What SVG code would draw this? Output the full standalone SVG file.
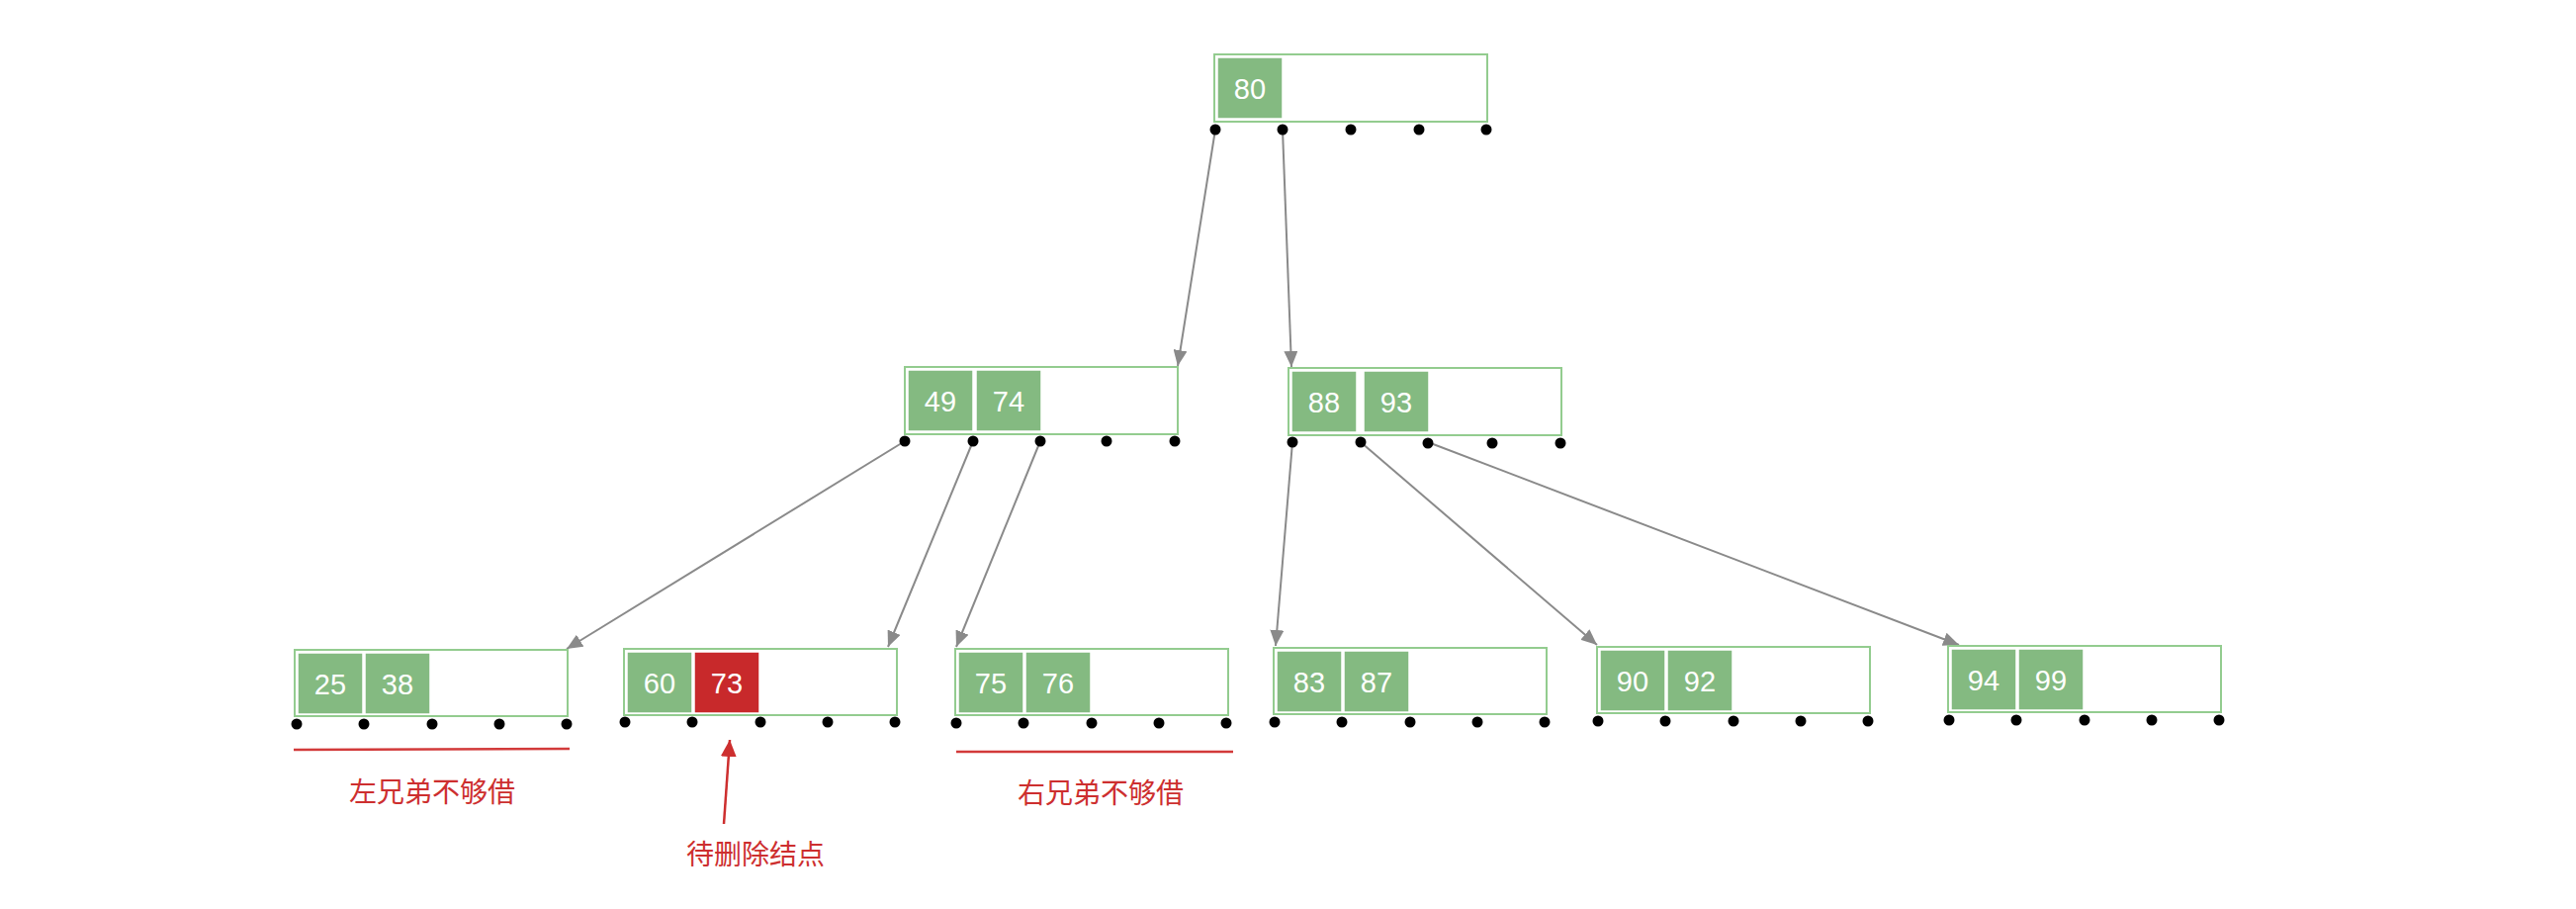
<svg xmlns="http://www.w3.org/2000/svg" width="2605" height="919" viewBox="0 0 2605 919">
<style>
.box{fill:#ffffff;stroke:#93cc8f;stroke-width:2}
.cell{fill:#84ba81;stroke:#ffffff;stroke-width:1.5}
.del{fill:#c8292b;stroke:#ffffff;stroke-width:1.5}
.num{font-family:"Liberation Sans",Arial,sans-serif;font-size:29px;fill:#ffffff;text-anchor:middle}
.dot{fill:#000000}
.edge{stroke:#8a8a8a;stroke-width:2;fill:none}
.note{font-family:"Noto Sans CJK SC","Noto Sans",sans-serif;font-size:28px;fill:#cd2f2f;text-anchor:middle}
.redline{stroke:#d23a3a;stroke-width:2.5;fill:none}
</style>
<defs>
<marker id="arr" markerUnits="userSpaceOnUse" markerWidth="18" markerHeight="14" refX="16" refY="7" orient="auto">
<path d="M0,0 L16,7 L0,14 Z" fill="#8a8a8a"/>
</marker>
<marker id="arrRed" markerUnits="userSpaceOnUse" markerWidth="18" markerHeight="16" refX="17" refY="8" orient="auto">
<path d="M0,0 L17,8 L0,16 Z" fill="#cd2f2f"/>
</marker>
</defs>
<rect width="2605" height="919" fill="#ffffff"/>

<g id="connectors">
<line class="edge" x1="1229" y1="131" x2="1191" y2="370" marker-end="url(#arr)"/>
<line class="edge" x1="1297" y1="131" x2="1306" y2="371" marker-end="url(#arr)"/>
<line class="edge" x1="915" y1="446" x2="573" y2="656" marker-end="url(#arr)"/>
<line class="edge" x1="984" y1="446" x2="898" y2="654" marker-end="url(#arr)"/>
<line class="edge" x1="1052" y1="446" x2="967" y2="654" marker-end="url(#arr)"/>
<line class="edge" x1="1307" y1="447" x2="1290" y2="653" marker-end="url(#arr)"/>
<line class="edge" x1="1376" y1="447" x2="1615" y2="652" marker-end="url(#arr)"/>
<line class="edge" x1="1444" y1="447" x2="1981" y2="652" marker-end="url(#arr)"/>
</g>

<g id="node-root">
<rect class="box" x="1228" y="55" width="276" height="68"/>
<rect class="cell" x="1231" y="58" width="66" height="62"/>
<text class="num" x="1264" y="100">80</text>
<circle class="dot" cx="1229" cy="131" r="5.5"/><circle class="dot" cx="1297" cy="131" r="5.5"/><circle class="dot" cx="1366" cy="131" r="5.5"/><circle class="dot" cx="1435" cy="131" r="5.5"/><circle class="dot" cx="1503" cy="131" r="5.5"/>
</g>

<g id="node-49-74">
<rect class="box" x="915" y="371" width="276" height="68"/>
<rect class="cell" x="918" y="374" width="66" height="62"/>
<rect class="cell" x="987" y="374" width="66" height="62"/>
<text class="num" x="951" y="416">49</text>
<text class="num" x="1020" y="416">74</text>
<circle class="dot" cx="915" cy="446" r="5.5"/><circle class="dot" cx="984" cy="446" r="5.5"/><circle class="dot" cx="1052" cy="446" r="5.5"/><circle class="dot" cx="1119" cy="446" r="5.5"/><circle class="dot" cx="1188" cy="446" r="5.5"/>
</g>

<g id="node-88-93">
<rect class="box" x="1303" y="372" width="276" height="68"/>
<rect class="cell" x="1306" y="375" width="66" height="62"/>
<rect class="cell" x="1379" y="375" width="66" height="62"/>
<text class="num" x="1339" y="417">88</text>
<text class="num" x="1412" y="417">93</text>
<circle class="dot" cx="1307" cy="447" r="5.5"/><circle class="dot" cx="1376" cy="447" r="5.5"/><circle class="dot" cx="1444" cy="448" r="5.5"/><circle class="dot" cx="1509" cy="448" r="5.5"/><circle class="dot" cx="1578" cy="448" r="5.5"/>
</g>

<g id="node-25-38">
<rect class="box" x="298" y="657" width="276" height="67"/>
<rect class="cell" x="301" y="660" width="66" height="62"/>
<rect class="cell" x="369" y="660" width="66" height="62"/>
<text class="num" x="334" y="702">25</text>
<text class="num" x="402" y="702">38</text>
<circle class="dot" cx="300" cy="732" r="5.5"/><circle class="dot" cx="368" cy="732" r="5.5"/><circle class="dot" cx="437" cy="732" r="5.5"/><circle class="dot" cx="505" cy="732" r="5.5"/><circle class="dot" cx="573" cy="732" r="5.5"/>
</g>

<g id="node-60-73">
<rect class="box" x="631" y="656" width="276" height="67"/>
<rect class="cell" x="634" y="659" width="66" height="62"/>
<rect class="del" x="702" y="659" width="66" height="62"/>
<text class="num" x="667" y="701">60</text>
<text class="num" x="735" y="701">73</text>
<circle class="dot" cx="632" cy="730" r="5.5"/><circle class="dot" cx="700" cy="730" r="5.5"/><circle class="dot" cx="769" cy="730" r="5.5"/><circle class="dot" cx="837" cy="730" r="5.5"/><circle class="dot" cx="905" cy="730" r="5.5"/>
</g>

<g id="node-75-76">
<rect class="box" x="966" y="656" width="276" height="67"/>
<rect class="cell" x="969" y="659" width="66" height="62"/>
<rect class="cell" x="1037" y="659" width="66" height="62"/>
<text class="num" x="1002" y="701">75</text>
<text class="num" x="1070" y="701">76</text>
<circle class="dot" cx="967" cy="731" r="5.5"/><circle class="dot" cx="1035" cy="731" r="5.5"/><circle class="dot" cx="1104" cy="731" r="5.5"/><circle class="dot" cx="1172" cy="731" r="5.5"/><circle class="dot" cx="1240" cy="731" r="5.5"/>
</g>

<g id="node-83-87">
<rect class="box" x="1288" y="655" width="276" height="67"/>
<rect class="cell" x="1291" y="658" width="66" height="62"/>
<rect class="cell" x="1359" y="658" width="66" height="62"/>
<text class="num" x="1324" y="700">83</text>
<text class="num" x="1392" y="700">87</text>
<circle class="dot" cx="1289" cy="730" r="5.5"/><circle class="dot" cx="1357" cy="730" r="5.5"/><circle class="dot" cx="1426" cy="730" r="5.5"/><circle class="dot" cx="1494" cy="730" r="5.5"/><circle class="dot" cx="1562" cy="730" r="5.5"/>
</g>

<g id="node-90-92">
<rect class="box" x="1615" y="654" width="276" height="67"/>
<rect class="cell" x="1618" y="657" width="66" height="62"/>
<rect class="cell" x="1686" y="657" width="66" height="62"/>
<text class="num" x="1651" y="699">90</text>
<text class="num" x="1719" y="699">92</text>
<circle class="dot" cx="1616" cy="729" r="5.5"/><circle class="dot" cx="1684" cy="729" r="5.5"/><circle class="dot" cx="1753" cy="729" r="5.5"/><circle class="dot" cx="1821" cy="729" r="5.5"/><circle class="dot" cx="1889" cy="729" r="5.5"/>
</g>

<g id="node-94-99">
<rect class="box" x="1970" y="653" width="276" height="67"/>
<rect class="cell" x="1973" y="656" width="66" height="62"/>
<rect class="cell" x="2041" y="656" width="66" height="62"/>
<text class="num" x="2006" y="698">94</text>
<text class="num" x="2074" y="698">99</text>
<circle class="dot" cx="1971" cy="728" r="5.5"/><circle class="dot" cx="2039" cy="728" r="5.5"/><circle class="dot" cx="2108" cy="728" r="5.5"/><circle class="dot" cx="2176" cy="728" r="5.5"/><circle class="dot" cx="2244" cy="728" r="5.5"/>
</g>

<g id="note-left">
<line class="redline" x1="297" y1="758" x2="576" y2="757"/>
<text class="note" x="437" y="811">左兄弟不够借</text>
</g>

<g id="note-right">
<line class="redline" x1="967" y1="760" x2="1247" y2="760"/>
<text class="note" x="1113" y="812">右兄弟不够借</text>
</g>

<g id="note-delete">
<line x1="732" y1="833" x2="738" y2="748" stroke="#cd2f2f" stroke-width="2.5" marker-end="url(#arrRed)"/>
<text class="note" x="764" y="874">待删除结点</text>
</g>
</svg>
